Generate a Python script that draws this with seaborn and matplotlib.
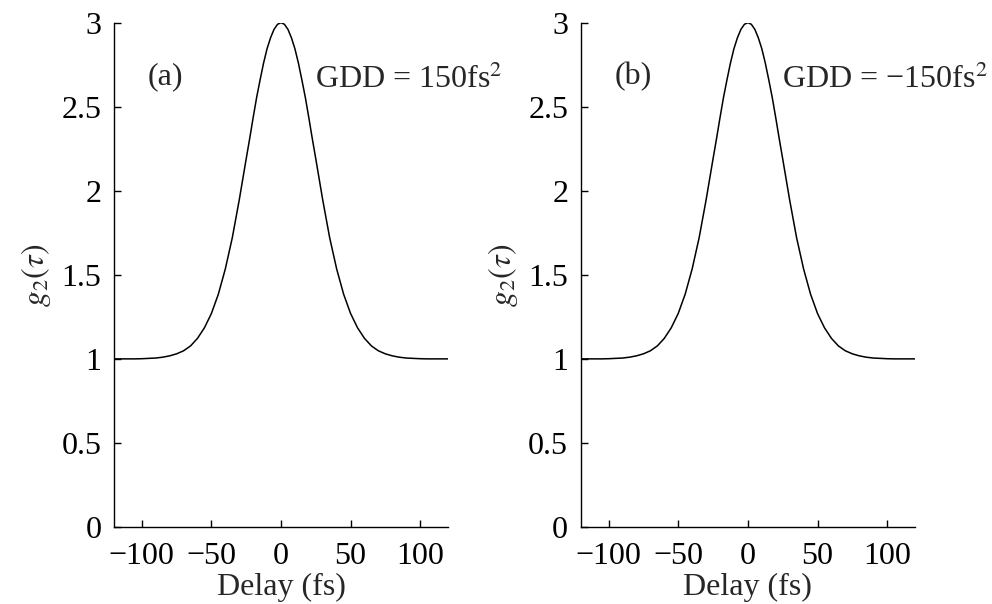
import matplotlib
matplotlib.use("Agg")
import matplotlib.pyplot as plt
import seaborn as sns
import pandas as pd

# Data (delay in fs, g2 values)
delay = [-120, -115, -110, -105, -100, -95, -90, -85, -80, -75, -70, -65, -60,
         -55, -50, -45, -40, -35, -30, -25, -22.5, -20, -17.5, -15, -12.5, -10, -7.5, -5, -2.5, 0,
         2.5, 5, 7.5, 10, 12.5, 15, 17.5, 20, 22.5, 25, 30, 35, 40, 45, 50, 55, 60, 65, 70,
         75, 80, 85, 90, 95, 100, 105, 110, 115, 120]
g2_a = [1.000, 1.000, 1.000, 1.000, 1.001, 1.003, 1.005, 1.010, 1.018, 1.030, 1.048, 1.077, 1.122,
        1.185, 1.270, 1.385, 1.535, 1.720, 1.945, 2.190, 2.310, 2.435, 2.555, 2.660, 2.760, 2.845, 2.910, 2.960, 2.990, 3.000,
        2.990, 2.960, 2.910, 2.845, 2.760, 2.660, 2.555, 2.435, 2.310, 2.190, 1.945, 1.720, 1.535, 1.385, 1.270, 1.185, 1.122, 1.077, 1.048,
        1.030, 1.018, 1.010, 1.005, 1.003, 1.001, 1.000, 1.000, 1.000, 1.000]
g2_b = [1.000, 1.000, 1.000, 1.000, 1.001, 1.003, 1.005, 1.010, 1.018, 1.030, 1.048, 1.077, 1.122,
        1.185, 1.270, 1.385, 1.535, 1.720, 1.945, 2.190, 2.310, 2.435, 2.555, 2.660, 2.760, 2.845, 2.910, 2.960, 2.990, 3.000,
        2.990, 2.960, 2.910, 2.845, 2.760, 2.660, 2.555, 2.435, 2.310, 2.190, 1.945, 1.720, 1.535, 1.385, 1.270, 1.185, 1.122, 1.077, 1.048,
        1.030, 1.018, 1.010, 1.005, 1.003, 1.001, 1.000, 1.000, 1.000, 1.000]
panel_labels = ["(a)", "(b)"]
gdd_labels = ["GDD = 150fs$^2$", "GDD = \u2212150fs$^2$"]
xticks = [-100, -50, 0, 50, 100]
yticks = [0, 0.5, 1, 1.5, 2, 2.5, 3]
ytick_labels = ["0", "0.5", "1", "1.5", "2", "2.5", "3"]

sns.set_style("ticks")
plt.rcParams["font.family"] = ["Liberation Serif", "DejaVu Serif"]
plt.rcParams["mathtext.fontset"] = "stix"
plt.rcParams["axes.unicode_minus"] = True

fig = plt.figure(figsize=(9.92, 6.04), dpi=100)
positions = [[0.1149, 0.1275, 0.3367, 0.835], [0.5854, 0.1275, 0.3370, 0.835]]
series = [g2_a, g2_b]

fs = 23
for pos, vals, plab, glab in zip(positions, series, panel_labels, gdd_labels):
    ax = fig.add_axes(pos)
    df = pd.DataFrame({"delay": delay, "g2": vals})
    sns.lineplot(data=df, x="delay", y="g2", ax=ax, color="black", linewidth=1.1)
    ax.set_xlim(-120, 120)
    ax.set_ylim(0, 3)
    ax.set_xticks(xticks)
    ax.set_yticks(yticks)
    ax.set_yticklabels(ytick_labels)
    ax.tick_params(direction="in", length=5, width=1, labelsize=fs, colors="black")
    ax.tick_params(axis="y", pad=9)
    ax.tick_params(axis="x", pad=11)
    for s in ["top", "right"]:
        ax.spines[s].set_visible(False)
    for s in ["left", "bottom"]:
        ax.spines[s].set_linewidth(1)
        ax.spines[s].set_color("black")
    ax.set_xlabel("Delay (fs)", fontsize=fs, labelpad=1)
    ax.set_ylabel(r"$g_2(\tau)$", fontsize=fs, labelpad=6)
    ax.text(-96, 2.68, plab, fontsize=fs, ha="left", va="center")
    ax.text(24.5, 2.66, glab, fontsize=fs, ha="left", va="center")
    ax.set_facecolor("white")

fig.savefig("out.png", dpi=100, facecolor="white")
